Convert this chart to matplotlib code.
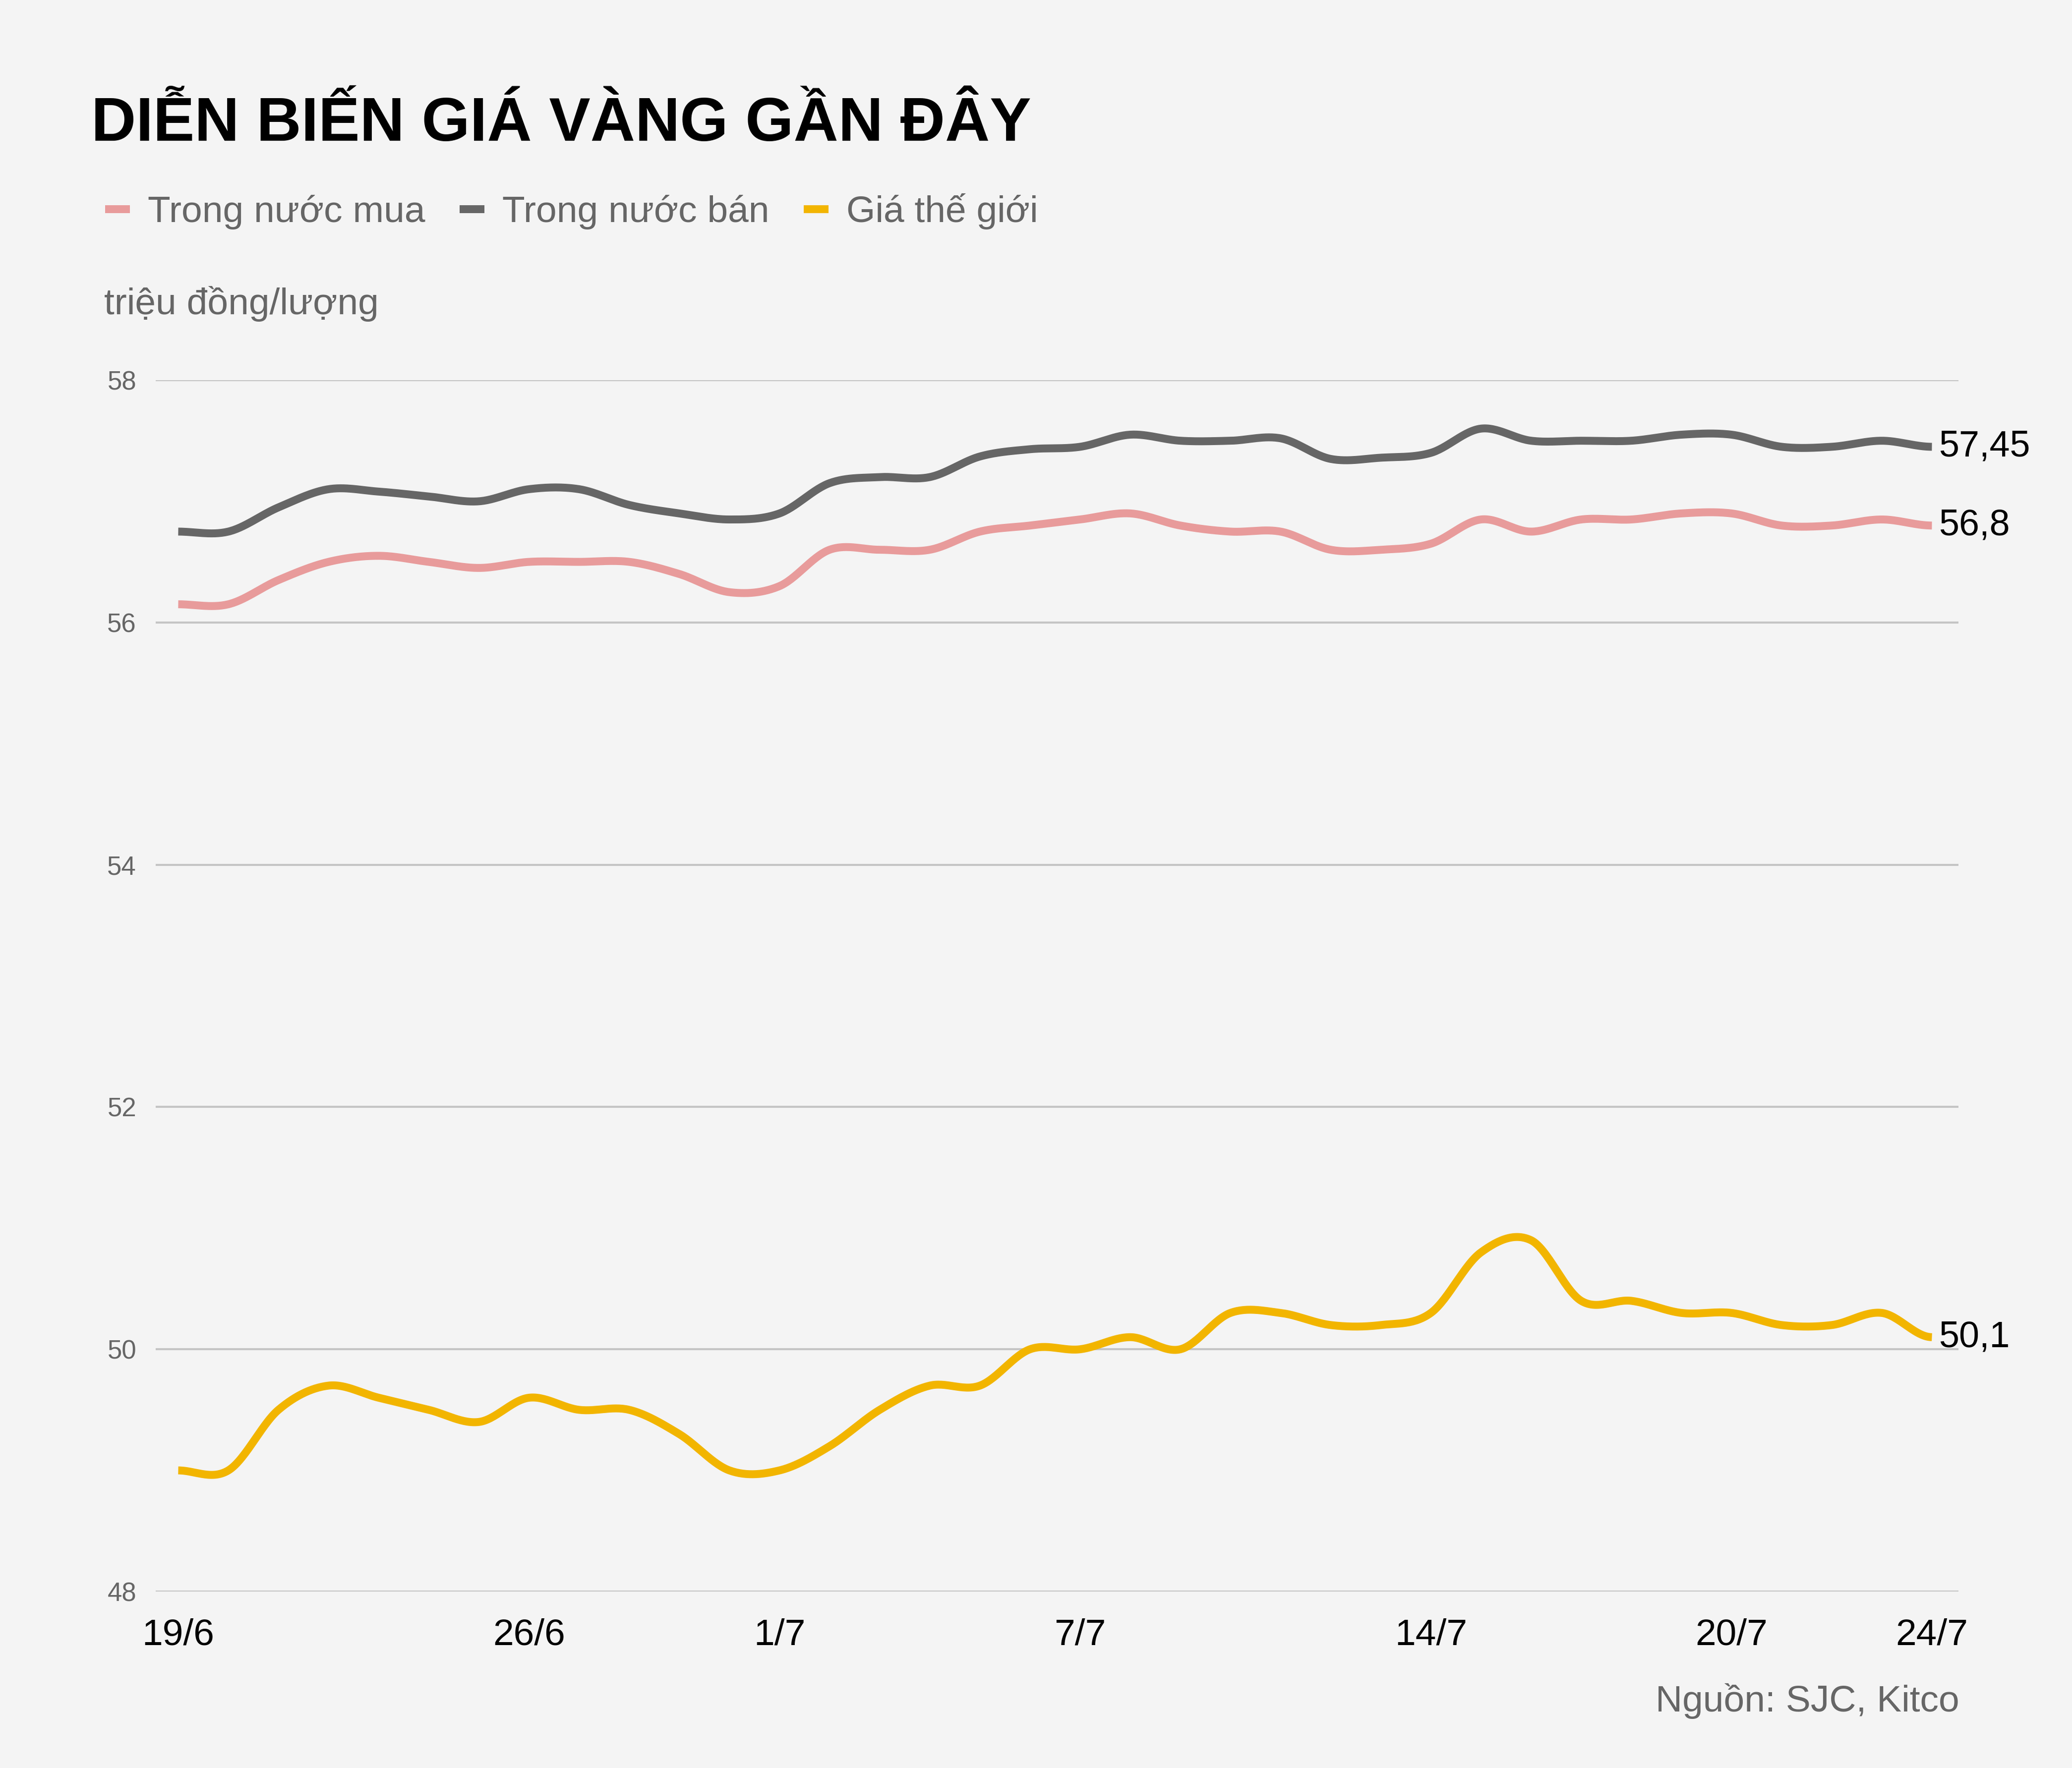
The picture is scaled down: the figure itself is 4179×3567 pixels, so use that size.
import numpy as np
import matplotlib
matplotlib.use("Agg")
import matplotlib.pyplot as plt

plt.rcParams['font.family'] = ['Liberation Sans', 'DejaVu Sans']

# ---- data ----
dates = ["19/6", "20/6", "21/6", "22/6", "23/6", "24/6", "25/6", "26/6", "27/6", "28/6",
         "29/6", "30/6", "1/7", "2/7", "3/7", "4/7", "5/7", "6/7", "7/7", "8/7",
         "9/7", "10/7", "11/7", "12/7", "13/7", "14/7", "15/7", "16/7", "17/7", "18/7",
         "19/7", "20/7", "21/7", "22/7", "23/7", "24/7"]
shown_ticks = ["19/6", "26/6", "1/7", "7/7", "14/7", "20/7", "24/7"]

trong_nuoc_mua = [56.15, 56.15, 56.35, 56.5, 56.55, 56.5, 56.45, 56.5, 56.5, 56.5,
                  56.4, 56.25, 56.3, 56.6, 56.6, 56.6, 56.75, 56.8, 56.85, 56.9,
                  56.8, 56.75, 56.75, 56.6, 56.6, 56.65, 56.85, 56.75, 56.85, 56.85,
                  56.9, 56.9, 56.8, 56.8, 56.85, 56.8]
trong_nuoc_ban = [56.75, 56.75, 56.95, 57.1, 57.08, 57.04, 57.0, 57.1, 57.1, 56.97,
                  56.9, 56.85, 56.9, 57.15, 57.2, 57.2, 57.37, 57.43, 57.45, 57.55,
                  57.5, 57.5, 57.52, 57.35, 57.36, 57.4, 57.6, 57.5, 57.5, 57.5,
                  57.55, 57.55, 57.45, 57.45, 57.5, 57.45]
gia_the_gioi = [49.0, 49.0, 49.5, 49.7, 49.6, 49.5, 49.4, 49.6, 49.5, 49.5,
                49.3, 49.0, 49.0, 49.2, 49.5, 49.7, 49.7, 50.0, 50.0, 50.1,
                50.0, 50.3, 50.3, 50.2, 50.2, 50.3, 50.8, 50.9, 50.4, 50.4,
                50.3, 50.3, 50.2, 50.2, 50.3, 50.1]

series_names = ["Trong nước mua", "Trong nước bán", "Giá thế giới"]
end_labels = ["56,8", "57,45", "50,1"]
colors = ["#e89b9b", "#666666", "#f2b500"]

BG = "#f4f4f4"
GRAY_TXT = "#666666"


def smooth(y, n=30):
    """Catmull-Rom style cubic Hermite curve through the points (rendering only)."""
    y = np.asarray(y, dtype=float)
    k = len(y)
    m = np.zeros(k)
    m[1:-1] = (y[2:] - y[:-2]) / 2.0
    xs, ys = [], []
    for i in range(k - 1):
        t = np.linspace(0, 1, n, endpoint=(i == k - 2))
        h00 = 2 * t**3 - 3 * t**2 + 1
        h10 = t**3 - 2 * t**2 + t
        h01 = -2 * t**3 + 3 * t**2
        h11 = t**3 - t**2
        xs.append(i + t)
        ys.append(h00 * y[i] + h10 * m[i] + h01 * y[i + 1] + h11 * m[i + 1])
    return np.concatenate(xs), np.concatenate(ys)


W, H = 4179, 3567
fig = plt.figure(figsize=(W / 100, H / 100), dpi=100, facecolor=BG)
ax = fig.add_axes([314 / W, 1 - 3211 / H, (3950 - 314) / W, (3211 - 767) / H])
ax.set_facecolor(BG)

x = np.arange(len(dates))
handles = []
for vals, name, col, lab in zip([trong_nuoc_mua, trong_nuoc_ban, gia_the_gioi],
                                series_names, colors, end_labels):
    sx, sy = smooth(vals)
    h, = ax.plot(sx, sy, color=col, lw=11.5, solid_capstyle='butt',
                 solid_joinstyle='round', label=name, zorder=3)
    handles.append(h)
    ax.annotate(lab, xy=(x[-1], vals[-1]), xytext=(10, 0), textcoords='offset points',
                va='center', ha='left', fontsize=53, color='black',
                annotation_clip=False)

ax.set_xlim(-0.45, 35.53)
ax.set_ylim(48, 58)
ax.set_yticks([48, 50, 52, 54, 56, 58])
ax.set_yticklabels(["48", "50", "52", "54", "56", "58"])
tick_pos = [dates.index(d) for d in shown_ticks]
ax.set_xticks(tick_pos)
ax.set_xticklabels(shown_ticks)
ax.tick_params(axis='y', length=0, pad=28, labelsize=38, labelcolor=GRAY_TXT)
ax.tick_params(axis='x', length=0, pad=38.5, labelsize=54, labelcolor='black')
ax.grid(axis='y', color='#c4c4c4', lw=3, zorder=0)
ax.grid(axis='x', visible=False)
for s in ax.spines.values():
    s.set_visible(False)

fig.text(184 / W, 1 - 284 / H, "DIỄN BIẾN GIÁ VÀNG GẦN ĐÂY", fontsize=90,
         fontweight='bold', color='black', va='baseline', ha='left')

fig.legend(handles=handles, labels=series_names, loc='upper left',
           bbox_to_anchor=(212 / W, 1 - 390 / H), ncol=3, frameon=False,
           fontsize=54, labelcolor=GRAY_TXT, handlelength=0.67,
           handletextpad=0.48, columnspacing=0.92, borderpad=0, borderaxespad=0)

fig.text(210 / W, 1 - 634 / H, "triệu đồng/lượng", fontsize=54, color=GRAY_TXT,
         va='baseline', ha='left')

fig.text(3952 / W, 1 - 3453 / H, "Nguồn: SJC, Kitco", fontsize=54, color=GRAY_TXT,
         va='baseline', ha='right')

fig.savefig("out.png", dpi=100, facecolor=BG)
